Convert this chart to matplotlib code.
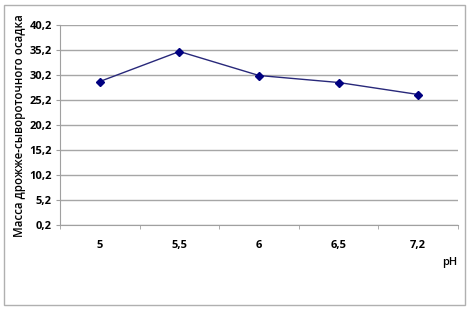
import matplotlib.pyplot as plt
from matplotlib.patches import Rectangle
import numpy as np

ph_labels = ['5', '5,5', '6', '6,5', '7,2']
mass = [28.9, 34.9, 30.1, 28.7, 26.3]
y_ticks = [0.2, 5.2, 10.2, 15.2, 20.2, 25.2, 30.2, 35.2, 40.2]

plt.rcParams['font.family'] = ['Open Sans', 'DejaVu Sans']

W, H = 471, 311
fig = plt.figure(figsize=(W / 100, H / 100), dpi=100)

# outer chart border
fig.patches.append(Rectangle((4 / W, 1 - 305 / H), 461 / W, 300 / H,
                             transform=fig.transFigure, fill=False,
                             edgecolor='#b0b0b0', linewidth=1))

ax = fig.add_axes([60 / W, 1 - 225 / H, 398 / W, 200 / H])
x = np.arange(len(ph_labels))
ax.plot(x, mass, color='#28287a', linewidth=1.0, marker='D',
        markersize=4, markerfacecolor='#000080', markeredgecolor='#000080')

ax.set_xlim(-0.5, len(ph_labels) - 0.5)
ax.set_ylim(0.2, 40.2)
ax.set_yticks(y_ticks)
ax.set_yticklabels([str(v).replace('.', ',') for v in y_ticks])
ax.set_xticks(x)
ax.set_xticklabels(ph_labels)
ax.set_xticks(np.arange(-0.5, len(ph_labels), 1.0), minor=True)
ax.tick_params(axis='x', which='major', length=0, pad=11, labelsize=8)
ax.tick_params(axis='x', which='minor', length=3, color='#a0a0a0')
ax.tick_params(axis='y', length=3, color='#a0a0a0', pad=3, labelsize=8)
for lab in ax.get_xticklabels() + ax.get_yticklabels():
    lab.set_fontweight('bold')

ax.grid(axis='y', color='#a6a6a6', linewidth=1)
ax.set_axisbelow(True)
for side in ['top', 'right']:
    ax.spines[side].set_visible(False)
ax.spines['left'].set_color('#a0a0a0')
ax.spines['bottom'].set_color('#a0a0a0')

fig.text(20 / W, 1 - 126 / H, 'Масса дрожже-сывороточного осадка',
         rotation=90, ha='center', va='center', fontsize=8.3,
         fontweight='semibold')
fig.text(450 / W, 1 - 262 / H, 'pH', ha='center', va='center',
         fontsize=8, fontweight='semibold')

fig.savefig('out.png', dpi=100)
